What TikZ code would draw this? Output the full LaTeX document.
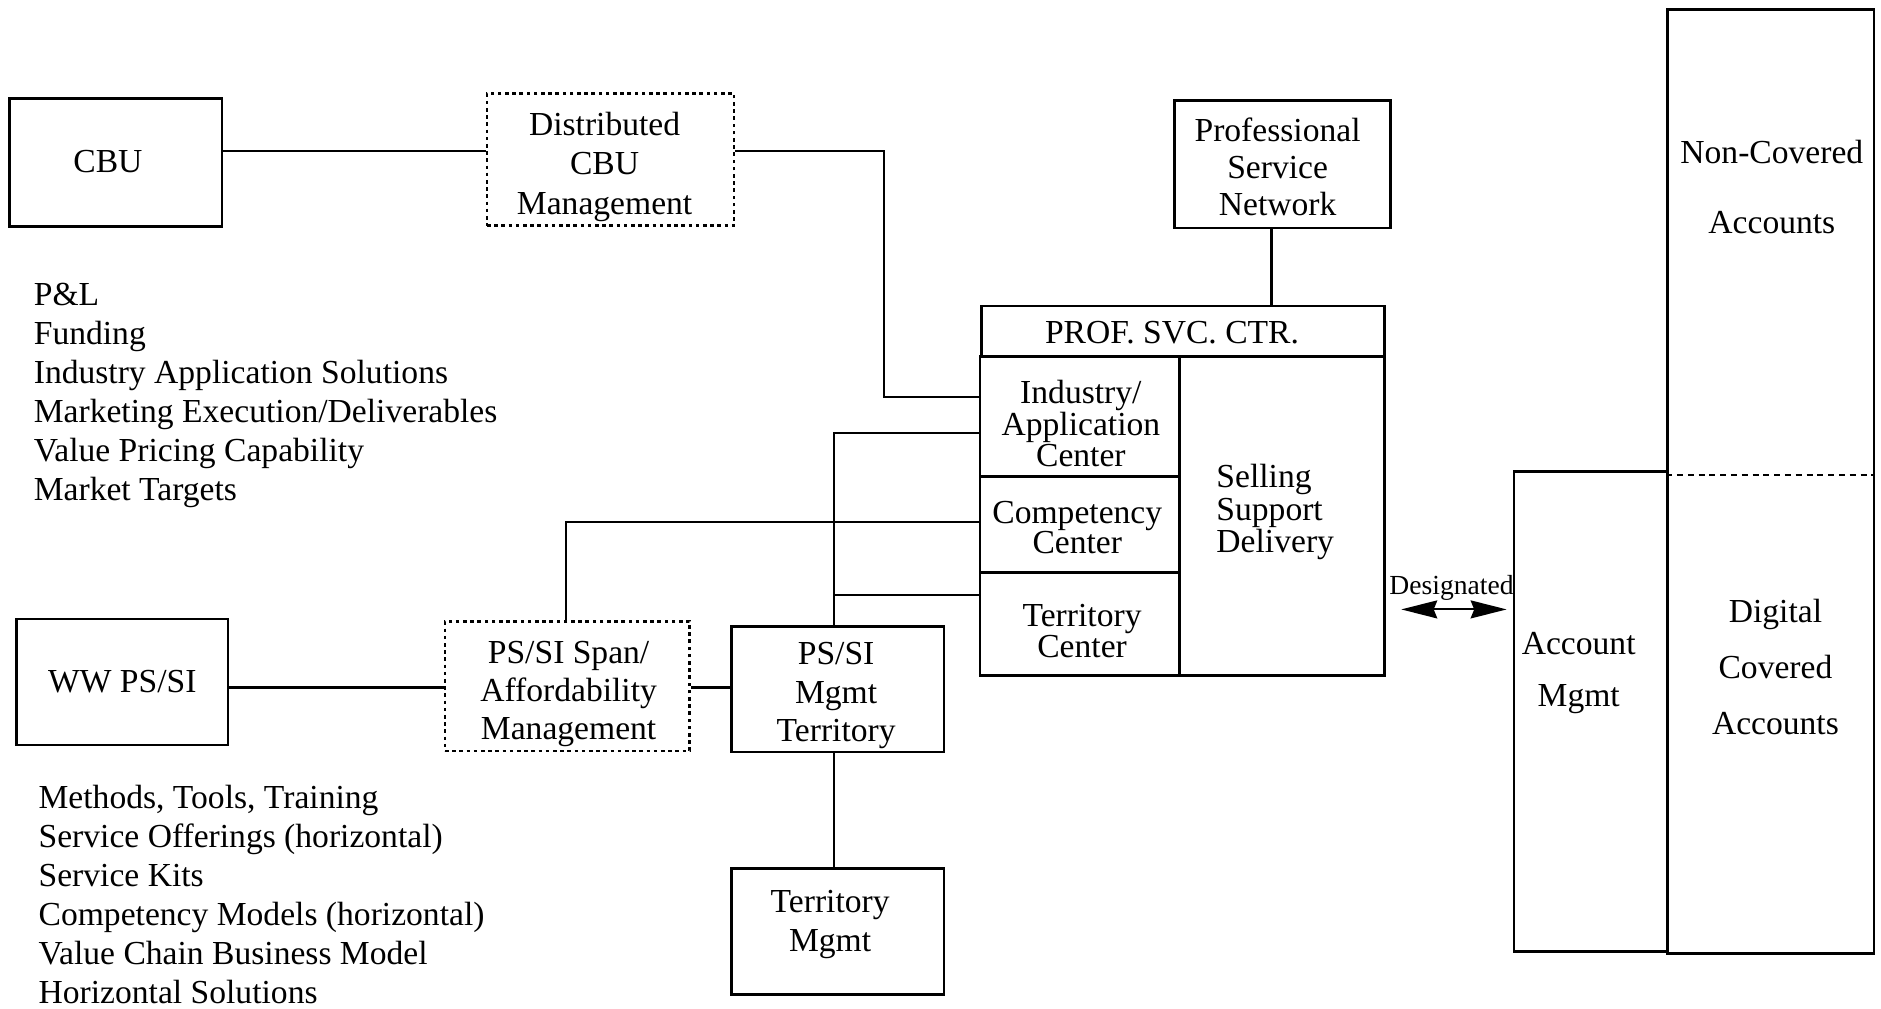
\documentclass[tikz,border=0pt]{standalone}
\usepackage{fontspec}
\setmainfont{Liberation Serif}
\usetikzlibrary{arrows.meta}
% font size 28 with a chosen line spacing
\newcommand\lsk[1]{\fontsize{28}{#1}\selectfont}
\begin{document}
\begin{tikzpicture}[x=1pt,y=-1pt,
  box/.style={draw,line width=2.2pt,rectangle,inner sep=0pt,align=center,font=\lsk{33}},
  dotbox/.style={box,dash pattern=on 3pt off 3pt},
  link/.style={line width=2pt},
  txt/.style={inner sep=0pt,align=center,font=\lsk{33}},
  headtip/.tip={Stealth[length=30pt,width=15pt,inset=3pt]}]
\useasboundingbox (0,0) rectangle (1568,841);

% rows and columns used by the connectors
\coordinate (rA) at (0,126);
\coordinate (rB) at (0,331);
\coordinate (rC) at (0,361);
\coordinate (rD) at (0,435);
\coordinate (rE) at (0,496);
\coordinate (rF) at (0,573);
\coordinate (rH) at (0,508);
\coordinate (rI) at (0,396);
\coordinate (cA) at (737,0);
\coordinate (cB) at (695,0);
\coordinate (cC) at (472,0);
\coordinate (cD) at (1060,0);

% left column
\node[box,minimum width=177pt,minimum height=107pt] (cbu) at (96.5,135.5) {};
\node[txt] (cbut) at (90,135) {CBU};
\node[dotbox,minimum width=206pt,minimum height=110pt] (dist) at (509,133) {};
\node[txt] (distt) at (504,139) {Distributed\\CBU\\Management};
\node[box,minimum width=176pt,minimum height=105pt] (ww) at (102,568.5) {WW PS/SI};
\node[dotbox,minimum width=204pt,minimum height=108pt] (span) at (473,572) {};
\node[txt,font=\lsk{31.5}] (spant) at (474,578.5) {PS/SI Span/\\Affordability\\Management};
\node[box,minimum width=177pt,minimum height=105pt] (psm) at (698.5,574.5) {};
\node[txt,font=\lsk{32}] (psmt) at (697,580) {PS/SI\\Mgmt\\Territory};
\node[box,minimum width=177pt,minimum height=105pt] (tm) at (698.5,776.5) {};
\node[txt] (tmt) at (692,770.5) {Territory\\Mgmt};

\node[txt,align=left,anchor=north west,font=\lsk{32.4}] (cbulist) at (28,236)
  {P\&L\\Funding\\Industry Application Solutions\\Marketing Execution/Deliverables\\Value Pricing Capability\\Market Targets};
\node[txt,align=left,anchor=north west,font=\lsk{32.6}] (pslist) at (32,654)
  {Methods, Tools, Training\\Service Offerings (horizontal)\\Service Kits\\Competency Models (horizontal)\\Value Chain Business Model\\Horizontal Solutions};

% professional service centre
\node[box,minimum width=180pt,minimum height=106pt] (psn) at (1069,137) {};
\node[txt,font=\lsk{30.5}] (psnt) at (1065,139) {Professional\\Service\\Network};
\node[box,minimum width=336pt,minimum height=42pt] (psc) at (986,276) {};
\node[txt] (psct) at (977,277) {PROF. SVC. CTR.};
\node[box,minimum width=166pt,minimum height=100pt] (iac) at (900,347) {};
\node[txt,font=\lsk{23}] (iact) at (901,353) {Industry/\\Application\\Center};
\node[box,minimum width=166pt,minimum height=80pt] (cc) at (900,437) {};
\node[txt,font=\lsk{25}] (cct) at (898,440) {Competency\\Center};
\node[box,minimum width=166pt,minimum height=86pt] (tc) at (900,520) {};
\node[txt,font=\lsk{22}] (tct) at (902,526) {Territory\\Center};
\node[box,minimum width=171pt,minimum height=266pt] (ssd) at (1068.5,430) {};
\node[txt,align=left,font=\lsk{27}] (ssdt) at (1063,427) {Selling\\Support\\Delivery};

% accounts
\node[box,minimum width=128pt,minimum height=400pt] (am) at (1326,593) {};
\node[box,minimum width=172pt,minimum height=787pt] (big) at (1476,401.5) {};
\node[txt,font=\lsk{43}] (amt) at (1316,561) {Account\\Mgmt};
\node[txt,font=\lsk{58}] (nca) at (1477,156) {Non-Covered\\Accounts};
\node[txt,font=\lsk{46.5}] (dca) at (1480,556) {Digital\\Covered\\Accounts};
\draw[dash pattern=on 5pt off 4pt,line width=1.8pt] (big.west |- rI) -- (big.east |- rI);

% connectors
\draw[link] (cbu.east |- rA) -- (dist.west |- rA);
\draw[link] (dist.east |- rA) -| (cA |- rB) -- (iac.west |- rB);
\draw[link] (psn.south -| cD) -- (psc.north -| cD);
\draw[link] (psm.north -| cB) |- (iac.west |- rC);
\draw[link] (cB |- rE) -- (tc.west |- rE);
\draw[link] (span.north -| cC) |- (cc.west |- rD);
\draw[link] (ww.east |- rF) -- (span.west |- rF);
\draw[link] (span.east |- rF) -- (psm.west |- rF);
\draw[link] (psm.south -| cB) -- (tm.north -| cB);
\draw[line width=1.6pt,headtip-headtip,shorten <=13pt,shorten >=5pt]
  (ssd.east |- rH) -- (am.west |- rH);
\node[inner sep=0pt,font=\fontsize{23}{23}\selectfont] (des) at (1210,490) {Designated};
\end{tikzpicture}
\end{document}
